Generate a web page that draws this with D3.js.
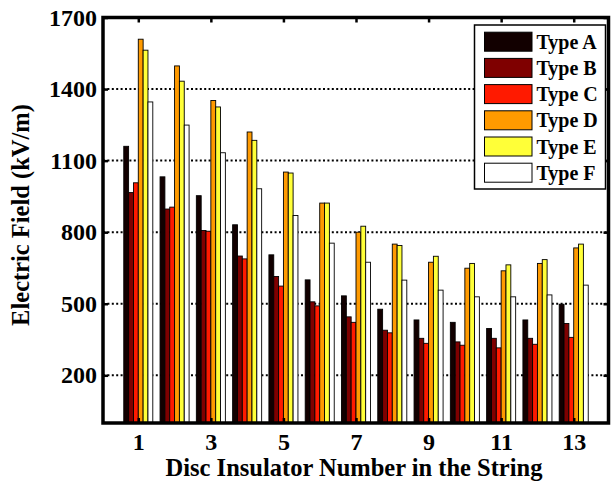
<!DOCTYPE html>
<html><head><meta charset="utf-8">
<script src="https://cdn.jsdelivr.net/npm/d3@7"></script>
<style>
html,body{margin:0;padding:0;background:#fff;}
svg text{font-family:"Liberation Serif","Times New Roman",serif;font-weight:bold;fill:#000;}
</style></head>
<body><svg id="chart" width="612" height="484"></svg>
<script>
const categories = [1,2,3,4,5,6,7,8,9,10,11,12,13];
const seriesNames = ["Type A","Type B","Type C","Type D","Type E","Type F"];
const typeA = [1160, 1032, 953, 831, 705, 600, 533, 477, 432, 422, 396, 432, 498];
const typeB = [966, 897, 807, 700, 614, 508, 445, 389, 355, 340, 355, 355, 417];
const typeC = [1007, 905, 804, 688, 574, 491, 422, 378, 334, 326, 315, 330, 359];
const typeD = [1609, 1497, 1352, 1220, 1052, 922, 800, 750, 674, 649, 638, 669, 734];
const typeE = [1563, 1433, 1325, 1185, 1048, 922, 825, 744, 699, 669, 663, 685, 750];
const typeF = [1346, 1249, 1133, 982, 870, 754, 674, 599, 557, 529, 529, 537, 578];
const seriesValues = [typeA, typeB, typeC, typeD, typeE, typeF];
const seriesColors = ["#120000","#7f0000","#ff1a00","#ff9a00","#ffff38","#ffffff"];
const yTicks = [200, 500, 800, 1100, 1400, 1700];
const xTicks = [1,3,5,7,9,11,13];

const svg = d3.select("#chart");
const L = 103, R = 608.5, T = 17.5, B = 423;
const x = d3.scaleLinear().domain([0, 14]).range([102, 610]);
const y = d3.scaleLinear().domain([0, 1700]).range([B, T]);
const groupW = 0.8, barW = groupW / seriesNames.length;

// grid
svg.append("g").selectAll("line").data(yTicks.filter(d => d < 1700)).join("line")
  .attr("x1", L).attr("x2", R).attr("y1", d => y(d)).attr("y2", d => y(d))
  .attr("stroke", "#000").attr("stroke-width", 2).attr("stroke-dasharray", "2,2.4");

// bars
const gBars = svg.append("g");
seriesValues.forEach((vals, s) => {
  gBars.append("g").selectAll("rect").data(vals).join("rect")
    .attr("x", (d, i) => x(categories[i] - groupW / 2 + s * barW))
    .attr("width", x(barW) - x(0))
    .attr("y", d => y(d))
    .attr("height", d => y(0) - y(d))
    .attr("fill", seriesColors[s])
    .attr("stroke", "#000").attr("stroke-width", 0.9);
});

// axes ticks
const yAxisL = d3.axisLeft(y).tickValues(yTicks).tickSize(-5).tickPadding(6).tickFormat(d3.format("d"));
const gy = svg.append("g").attr("transform", `translate(${L},0)`).call(yAxisL);
gy.select(".domain").remove();
gy.selectAll("line").attr("stroke-width", 2.5);
gy.selectAll("text").style("font-size", "24px");
const yAxisR = d3.axisRight(y).tickValues(yTicks).tickSize(-5).tickFormat("");
const gyr = svg.append("g").attr("transform", `translate(${R},0)`).call(yAxisR);
gyr.select(".domain").remove();
gyr.selectAll("line").attr("stroke-width", 2.5);

const xAxisB = d3.axisBottom(x).tickValues(xTicks).tickSize(-5).tickPadding(10).tickFormat(d3.format("d"));
const gx = svg.append("g").attr("transform", `translate(0,${B})`).call(xAxisB);
gx.select(".domain").remove();
gx.selectAll("line").attr("stroke-width", 2.5);
gx.selectAll("text").style("font-size", "24px");
const xAxisT = d3.axisTop(x).tickValues(xTicks).tickSize(-5).tickFormat("");
const gxt = svg.append("g").attr("transform", `translate(0,${T})`).call(xAxisT);
gxt.select(".domain").remove();
gxt.selectAll("line").attr("stroke-width", 2.5);

// frame
svg.append("rect").attr("x", L).attr("y", T).attr("width", R - L).attr("height", B - T)
  .attr("fill", "none").attr("stroke", "#000").attr("stroke-width", 3.5);

// axis titles
svg.append("text").attr("x", 354).attr("y", 476).attr("text-anchor", "middle")
  .style("font-size", "24.5px").text("Disc Insulator Number in the String");
svg.append("text").attr("transform", "translate(29,215) rotate(-90)").attr("text-anchor", "middle")
  .style("font-size", "24.5px").text("Electric Field (kV/m)");

// legend
const lg = svg.append("g");
lg.append("rect").attr("x", 474.5).attr("y", 25).attr("width", 131).attr("height", 164)
  .attr("fill", "#fff").attr("stroke", "#000").attr("stroke-width", 1.5);
seriesNames.forEach((n, i) => {
  const cy = 41.7 + i * 26.2;
  lg.append("rect").attr("x", 484.5).attr("y", cy - 9.5).attr("width", 47.5).attr("height", 19)
    .attr("fill", seriesColors[i]).attr("stroke", "#000").attr("stroke-width", 1);
  lg.append("text").attr("x", 536.5).attr("y", cy + 7).style("font-size", "20px").text(n);
});
</script></body></html>
